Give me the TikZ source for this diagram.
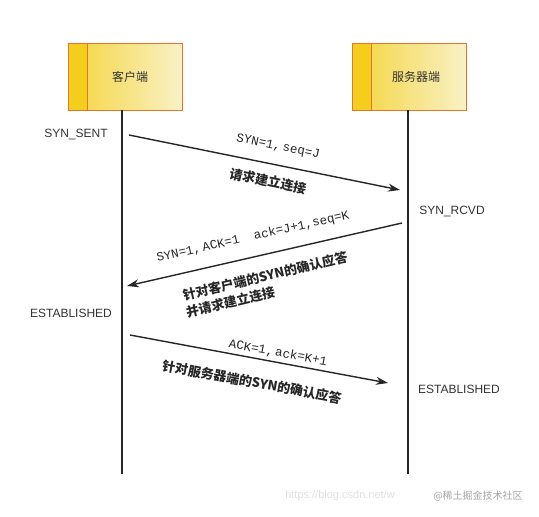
\documentclass[tikz,border=0pt]{standalone}
\usepackage{fontspec}
\setmainfont{Liberation Sans}
\newfontfamily\cjk{Noto Sans CJK SC}
\newfontfamily\lmono{Liberation Mono}
\usetikzlibrary{arrows.meta}
\definecolor{boxborder}{HTML}{E8742C}
\definecolor{gold}{HTML}{F3CE1C}
\definecolor{pale}{HTML}{F9F1C6}
\definecolor{txt}{HTML}{333333}
\tikzset{
  actor/.style={draw=boxborder, line width=1.2pt, minimum width=114pt, minimum height=67pt, inner sep=0pt, anchor=north west, left color=gold!80!pale, right color=pale},
  strip/.style={draw=boxborder, line width=1.2pt, fill=gold, minimum width=19pt, minimum height=67pt, inner sep=0pt, anchor=north west},
  life/.style={line width=1.3pt, draw=black!85},
  msg/.style={line width=1.4pt, draw=black!85, -{Stealth[length=12pt,width=8pt]}},
  state/.style={font=\fontsize{12}{14}\selectfont, text=txt},
  lbl/.style={font=\lmono\fontsize{12.5}{14}\selectfont, text=black!85, inner sep=1pt},
  clbl/.style={font=\cjk\bfseries\fontsize{13}{15}\selectfont, text=black!85, inner sep=1pt},
}
\begin{document}
\begin{tikzpicture}[x=1pt,y=-1pt]
\useasboundingbox[fill=white] (0,0) rectangle (539,517);
% actors
\node[actor] (cbox) at (68,43) {};
\node[strip] (cstrip) at (68,43) {};
\node[font=\cjk\fontsize{12}{14}\selectfont, text=txt] (ctext) at (130,77) {客户端};
\node[actor] (sbox) at (352,43) {};
\node[strip] (sstrip) at (352,43) {};
\node[font=\cjk\fontsize{12}{14}\selectfont, text=txt] (stext) at (416,77) {服务器端};
% lifelines
\coordinate (ctop) at (122,110);
\coordinate (cbot) at (122,474);
\coordinate (stop) at (408,110);
\coordinate (sbot) at (408,474);
\draw[life] (ctop) -- (cbot);
\draw[life] (stop) -- (sbot);
% states
\node[state] (s1) at (76,135) {SYN\_SENT};
\node[state] (s2) at (452,211) {SYN\_RCVD};
\node[state] (s3) at (71,313) {ESTABLISHED};
\node[state] (s4) at (459,389) {ESTABLISHED};
% message 1
\coordinate (m1a) at (129,135);
\coordinate (m1b) at (400,190);
\draw[msg] (m1a) -- (m1b);
\node[lbl, rotate=-11.5] (l1) at (278,147) {SYN=1,\,seq=J};
\node[clbl, rotate=-11.5] (c1) at (268,181) {请求建立连接};
% message 2
\coordinate (m2a) at (402,223);
\coordinate (m2b) at (127,286);
\draw[msg] (m2a) -- (m2b);
\node[lbl, rotate=12.7] (l2) at (253,237) {SYN=1,\,ACK=1\ \ ack=J+1,seq=K};
\node[clbl, rotate=13.5, anchor=west] (c2) at (182,296) {针对客户端的SYN的确认应答};
\node[clbl, rotate=13.5, anchor=west] (c2b) at (185,313) {并请求建立连接};
% message 3
\coordinate (m3a) at (130,335);
\coordinate (m3b) at (388,383);
\draw[msg] (m3a) -- (m3b);
\node[lbl, rotate=-10.5] (l3) at (278,353) {ACK=1,\,ack=K+1};
\node[clbl, rotate=-10.5] (c3) at (252,382) {针对服务器端的SYN的确认应答};
% watermark
\node[font=\fontsize{11}{13}\selectfont, text=black!12] (wm1) at (340,496) {https://blog.csdn.net/w};
\node[font=\cjk\fontsize{10}{12}\selectfont, text=black!35] (wm2) at (478,496) {@稀土掘金技术社区};
\end{tikzpicture}
\end{document}
